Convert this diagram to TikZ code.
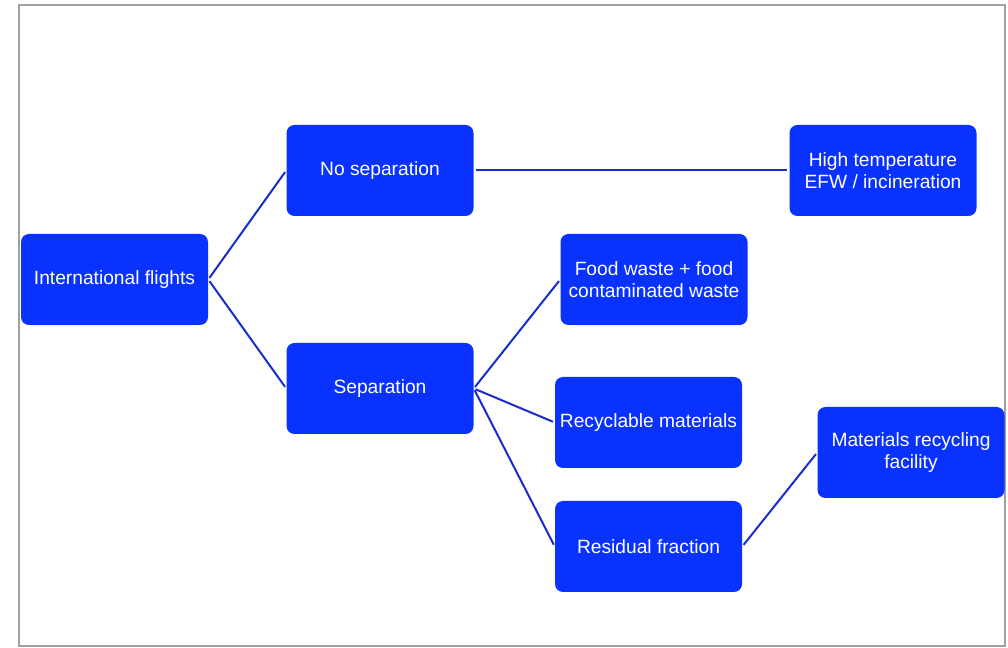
\documentclass[tikz,border=0pt]{standalone}
\usepackage{fontspec}
\setmainfont{Liberation Sans}
\begin{document}
\definecolor{boxblue}{RGB}{10,50,255}
\definecolor{linkblue}{RGB}{25,45,205}
\definecolor{framegray}{RGB}{160,160,160}
\begin{tikzpicture}[x=0.75pt,y=-0.75pt,
  stage/.style={rectangle, rounded corners=6pt, fill=boxblue, text=white,
    minimum width=140.25pt, minimum height=68.25pt, inner sep=2pt,
    align=center, font=\fontsize{14.4}{16}\selectfont},
  link/.style={draw=linkblue, line width=1.5pt, shorten <=1.5pt, shorten >=1.5pt}]
  % canvas and outer frame
  \fill[white] (0,0) rectangle (1008,648);
  \useasboundingbox (0,0) rectangle (1008,648);
  \draw[framegray, line width=1.5pt] (18.5,5.5) rectangle (1005,646.5);
  % stages
  \node[stage] (flights) at (114.5,279.5) {International flights};
  \node[stage] (nosep) at (380,170.5) {No separation};
  \node[stage] (sep) at (380,388.5) {Separation};
  \node[stage] (efw) at (883,170.5) {High temperature\\EFW / incineration};
  \node[stage] (food) at (654,279.5) {Food waste + food\\contaminated waste};
  \node[stage] (recyc) at (648.5,422.5) {Recyclable materials};
  \node[stage] (resid) at (648.5,546.5) {Residual fraction};
  \node[stage] (mrf) at (911,452.5) {Materials recycling\\facility};
  % connectors
  \draw[link] (flights.east) -- (nosep.west);
  \draw[link] (flights.east) -- (sep.west);
  \draw[link] (nosep.east) -- (efw.west);
  \draw[link] (sep.east) -- (food.west);
  \draw[link] (sep.east) -- (recyc.west);
  \draw[link] (sep.east) -- (resid.west);
  \draw[link] (resid.east) -- (mrf.west);
\end{tikzpicture}
\end{document}
